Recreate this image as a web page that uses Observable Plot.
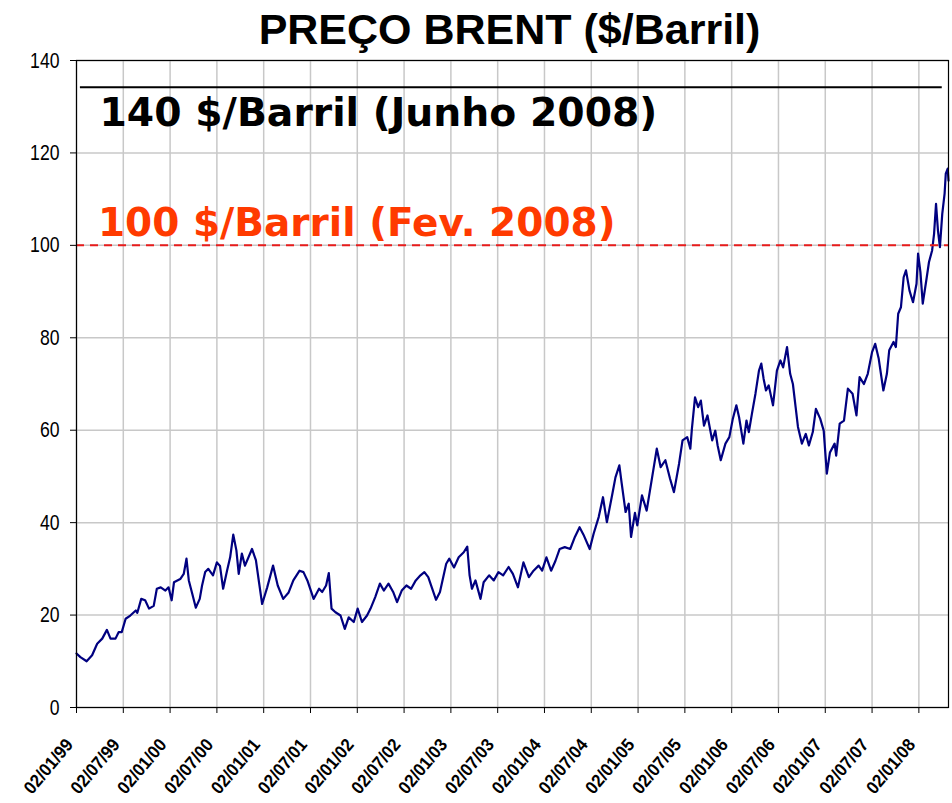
<!DOCTYPE html>
<html><head><meta charset="utf-8">
<script src="https://cdn.jsdelivr.net/npm/d3@7"></script>
<script src="https://cdn.jsdelivr.net/npm/@observablehq/plot@0.6"></script>
<style>
body{margin:0;background:#fff;}
#wrap{position:relative;width:952px;height:803px;overflow:hidden;}
#title{position:absolute;top:8px;left:0;width:1019px;text-align:center;font:bold 43px "Liberation Sans",Arial,sans-serif;line-height:1;color:#000;}
#chart{position:absolute;top:0;left:0;}
</style></head><body>
<div id="wrap"><div id="chart"></div><div id="title">PREÇO BRENT ($/Barril)</div></div>
<script>
// months since 02/01/1999
const tickMonths = [0,6,12,18,24,30,36,42,48,54,60,66,72,78,84,90,96,102,108];
const tickLabels = ["02/01/99","02/07/99","02/01/00","02/07/00","02/01/01","02/07/01","02/01/02","02/07/02","02/01/03","02/07/03","02/01/04","02/07/04","02/01/05","02/07/05","02/01/06","02/07/06","02/01/07","02/07/07","02/01/08"];
const yTicks = [0,20,40,60,80,100,120,140];

const months = [0,0.5,1.3,2.0,2.65,3.3,3.9,4.36,5.0,5.4,5.8,6.3,6.9,7.6,7.8,8.3,8.8,9.3,9.9,10.3,10.8,11.4,11.8,12.2,12.5,13.3,13.75,14.1,14.4,14.8,15.3,15.8,16.1,16.5,16.9,17.5,18.0,18.4,18.8,19.3,19.7,20.1,20.5,20.8,21.2,21.6,22.5,23.0,23.4,23.8,24.45,25.2,25.8,26.5,27.2,27.8,28.6,29.1,29.6,30.4,31.1,31.5,32.0,32.35,32.7,33.2,33.85,34.4,34.9,35.55,36.05,36.6,37.25,37.7,38.3,38.9,39.4,40.0,40.6,41.1,41.7,42.3,42.9,43.5,44.1,44.6,45.1,45.55,46.1,46.6,47.4,47.8,48.4,49.0,49.65,50.1,50.4,50.7,51.15,51.8,52.2,52.9,53.5,54.1,54.7,55.4,55.95,56.6,57.3,58.0,58.6,59.25,59.7,60.25,60.85,61.4,61.95,62.6,63.3,63.9,64.5,65.0,65.8,66.3,66.95,67.5,68.0,68.7,69.1,69.6,69.9,70.4,70.8,71.1,71.6,71.9,72.5,73.1,73.8,74.4,74.9,75.5,76.1,76.6,77.25,77.7,78.3,78.7,78.9,79.3,79.7,80.05,80.45,80.9,81.5,81.9,82.2,82.6,83.2,83.7,84.15,84.6,84.95,85.5,85.9,86.2,86.6,87.05,87.5,87.8,88.1,88.4,88.75,89.3,89.8,90.25,90.6,91.1,91.5,91.85,92.2,92.5,93.0,93.5,93.9,94.4,94.8,95.35,95.8,96.2,96.6,97.2,97.4,97.85,98.4,98.9,99.5,100.0,100.4,100.95,101.45,102.0,102.4,102.85,103.45,103.9,104.2,104.75,105.05,105.35,105.7,106.05,106.35,106.8,107.25,107.7,107.9,108.2,108.5,108.95,109.3,109.7,109.95,110.2,110.45,110.7,111.0,111.3,111.45,111.7,111.8];
const brent = [11.7,10.9,10.0,11.3,13.8,14.9,16.8,14.9,14.9,16.3,16.3,19.2,19.9,21.0,20.5,23.5,23.2,21.4,22.0,25.7,26.0,25.3,26.0,23.2,27.1,27.8,28.9,32.2,27.5,24.9,21.6,23.5,26.4,29.3,30.0,28.6,31.4,30.6,25.7,29.6,32.5,37.4,34.0,28.9,33.3,30.7,34.3,31.9,27.1,22.4,26.0,30.7,26.4,23.5,24.9,27.5,29.6,29.3,27.5,23.5,25.7,25.0,26.4,29.1,21.4,20.6,19.9,17.0,19.5,18.5,21.4,18.5,19.9,21.4,23.9,26.8,25.3,26.8,25.0,22.8,25.3,26.4,25.7,27.5,28.6,29.3,28.2,26.0,23.3,25.0,31.1,32.2,30.3,32.5,33.6,34.8,28.6,25.7,27.5,23.5,27.1,28.6,27.5,29.3,28.6,30.4,28.9,26.0,31.4,28.2,29.6,30.7,29.6,32.5,29.6,31.7,34.3,34.7,34.3,36.9,39.0,37.4,34.3,37.6,41.2,45.5,40.1,46.2,49.8,52.4,48.5,42.3,44.1,36.9,42.1,39.4,45.9,42.6,49.8,56.0,52.0,53.5,49.5,46.6,52.7,57.8,58.5,56.0,60.3,67.1,65.0,66.4,61.0,63.2,57.8,59.9,56.7,53.5,57.1,58.5,62.5,65.4,62.8,57.1,62.1,59.6,63.6,67.9,72.9,74.4,71.1,68.6,69.7,65.4,72.9,75.1,73.6,78.0,72.2,70.0,65.0,60.7,57.1,59.2,56.7,59.6,64.6,62.5,59.9,50.6,55.2,57.1,54.5,61.4,62.1,69.0,67.9,63.2,71.5,70.0,72.2,76.9,78.7,75.5,68.6,72.2,77.3,79.1,78.0,85.2,86.6,93.1,94.6,90.2,87.7,91.7,98.2,94.2,87.4,92.4,96.4,98.9,102.5,109.0,103.2,99.6,106.8,111.2,115.5,116.6,114.0];

const annotLabels = ["140 $/Barril (Junho 2008)", "100 $/Barril (Fev. 2008)"];
const annotLevels = [134.2, 100];

const data = months.map((m, i) => ({m, v: brent[i]}));
const xMax = 111.8;

const chart = Plot.plot({
  width: 952, height: 803,
  marginLeft: 76, marginRight: 4, marginTop: 60, marginBottom: 96,
  style: {background: "white", fontFamily: "'Liberation Sans', Arial, sans-serif", color: "black", overflow: "visible"},
  x: {domain: [0, xMax], axis: null},
  y: {domain: [0, 140], axis: null},
  marks: [
    Plot.gridX(tickMonths, {stroke: "#c8c8c8", strokeOpacity: 1, strokeWidth: 1.5}),
    Plot.gridY(yTicks, {stroke: "#c8c8c8", strokeOpacity: 1, strokeWidth: 1.5}),
    Plot.axisY(yTicks, {label: null, tickSize: 6, tickPadding: 11, fontSize: 22, stroke: "black"}),
    // tick marks only
    Plot.axisX(tickMonths, {label: null, tickSize: 6, tickFormat: () => "", stroke: "black"}),
    // rotated tick labels
    Plot.axisX(tickMonths, {label: null, tickSize: 0, tickRotate: -50, tickPadding: 34, dx: -7, fontSize: 18, fontWeight: "bold",
      tickFormat: d => tickLabels[tickMonths.indexOf(d)]}),
    Plot.line(data, {x: "m", y: "v", stroke: "#000080", strokeWidth: 2.2}),
    Plot.ruleY([annotLevels[0]], {x1: 0.5, x2: 111, stroke: "black", strokeWidth: 2}),
    Plot.ruleY([annotLevels[1]], {stroke: "#e81c1c", strokeWidth: 2, strokeDasharray: "8,6"}),
    Plot.frame({stroke: "black", strokeWidth: 1.2}),
    Plot.text([{t: annotLabels[0], m: 2.95, v: 128.65}], {x: "m", y: "v", text: "t", textAnchor: "start", lineAnchor: "middle",
      fontSize: 39.3, fontWeight: "bold", fontFamily: "'DejaVu Sans', Verdana, sans-serif", fill: "black"}),
    Plot.text([{t: annotLabels[1], m: 2.75, v: 104.8}], {x: "m", y: "v", text: "t", textAnchor: "start", lineAnchor: "middle",
      fontSize: 39, fontWeight: "bold", fontFamily: "'DejaVu Sans', Verdana, sans-serif", fill: "#ff3a00"})
  ]
});
document.getElementById("chart").append(chart);

// narrow the tick label glyphs (the reference uses a condensed face)
function squeeze(selector, factor) {
  chart.querySelectorAll(selector).forEach(g => {
    g.querySelectorAll("text").forEach(t => {
      const len = t.getComputedTextLength();
      if (len > 0) {
        t.setAttribute("textLength", (len * factor).toFixed(1));
        t.setAttribute("lengthAdjust", "spacingAndGlyphs");
      }
    });
  });
}
squeeze('g[aria-label="y-axis tick label"]', 0.8);
squeeze('g[aria-label="x-axis tick label"]', 0.93);
</script>
</body></html>
